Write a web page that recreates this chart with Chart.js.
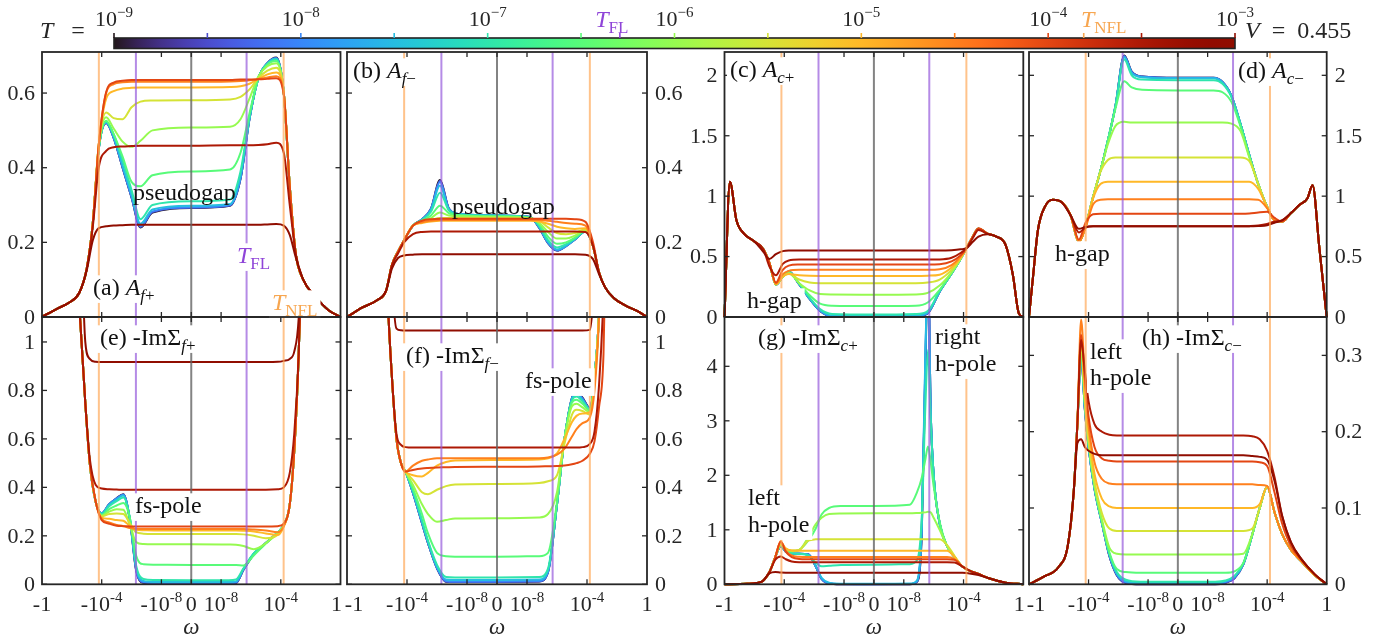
<!DOCTYPE html>
<html>
<head>
<meta charset="utf-8">
<script src="https://cdn.jsdelivr.net/npm/chart.js@4.4.1/dist/chart.umd.min.js"></script>
<style>
  html, body { margin: 0; padding: 0; background: #fff; }
  #fig { position: relative; width: 1393px; height: 639px; }
  #fig canvas { position: absolute; left: 0; top: 0; }
</style>
</head>
<body>
<div id="fig"></div>
<script>
// temperatures of the curves, one colour each (ticks on the colour bar)
const temps = [1e-9, 3.16e-9, 1e-8, 3.16e-8, 1e-7, 3.16e-7, 1e-6, 3.16e-6, 1e-5, 3.16e-5, 1e-4, 3.16e-4, 1e-3];
const T_FL = 5.1e-7;
const T_NFL = 1.55e-4;

// x positions are in decades: sign(w)*(10 + log10|w|), so w=±1 -> ±10, ±1e-4 -> ±6, ±1e-8 -> ±2
const xTickPos = [-10, -6, -2, 0, 2, 6, 10];
const xTickText = [['-1', ''], ['-10', '-4'], ['-10', '-8'], ['0', ''], ['10', '-8'], ['10', '-4'], ['1', '']];

// (a) A_f+
const wA = [-10,-9,-8.2,-7.5,-7,-6.6,-6.2,-5.7,-5.2,-4.6,-4.0,-3.4,-2.6,0,2.6,3.3,3.9,4.5,5.1,5.7,6.2,6.6,7.0,7.5,8.3,9.2,10];
const AfPlus = [
  [0,.022,.038,.065,.13,.25,.45,.52,.48,.40,.32,.24,.28,.292,.298,.37,.53,.64,.68,.695,.6,.35,.17,.1,.055,.018,0],
  [0,.022,.038,.065,.13,.25,.45,.52,.48,.40,.32,.241,.281,.293,.299,.37,.53,.64,.68,.694,.6,.35,.17,.1,.055,.018,0],
  [0,.022,.038,.065,.13,.25,.45,.521,.481,.402,.322,.243,.283,.294,.30,.372,.53,.64,.68,.693,.6,.35,.17,.1,.055,.018,0],
  [0,.022,.038,.065,.13,.25,.45,.522,.483,.406,.328,.25,.288,.298,.303,.378,.532,.64,.679,.692,.6,.35,.17,.1,.055,.018,0],
  [0,.022,.038,.065,.13,.25,.45,.524,.49,.42,.34,.262,.30,.31,.315,.39,.535,.64,.678,.69,.6,.35,.17,.1,.055,.018,0],
  [0,.022,.038,.065,.13,.25,.45,.526,.49,.43,.362,.35,.38,.39,.395,.44,.545,.64,.676,.686,.6,.35,.17,.1,.055,.018,0],
  [0,.022,.038,.065,.13,.25,.46,.535,.505,.47,.456,.472,.50,.508,.51,.53,.585,.645,.672,.68,.6,.35,.17,.1,.055,.018,0],
  [0,.022,.038,.065,.13,.25,.46,.548,.533,.53,.562,.577,.58,.581,.583,.59,.61,.64,.66,.668,.6,.35,.17,.1,.055,.018,0],
  [0,.022,.038,.065,.13,.25,.46,.585,.605,.612,.614,.615,.615,.615,.616,.618,.625,.638,.65,.655,.6,.35,.17,.1,.055,.018,0],
  [0,.022,.038,.065,.13,.25,.46,.60,.624,.629,.63,.63,.63,.63,.631,.632,.634,.638,.642,.645,.6,.35,.17,.1,.055,.018,0],
  [0,.022,.038,.065,.13,.25,.46,.603,.628,.633,.635,.635,.635,.635,.635,.636,.636,.637,.638,.64,.595,.35,.17,.1,.055,.018,0],
  [0,.022,.038,.065,.13,.24,.40,.445,.455,.457,.458,.459,.459,.459,.46,.46,.46,.461,.463,.467,.44,.3,.17,.1,.055,.018,0],
  [0,.022,.038,.065,.125,.205,.238,.243,.245,.246,.247,.247,.247,.247,.247,.247,.247,.247,.248,.249,.245,.22,.16,.1,.055,.018,0]
];

// (b) A_f-
const wB = [-10,-9,-8,-7.4,-7,-6.6,-6.2,-5.6,-5,-4.4,-3.8,-3.2,-2.4,0,2.2,2.8,3.4,4.0,4.6,5.2,5.9,6.4,6.8,7.2,7.8,8.6,9.4,10];
const AfMinus = [
  [0,.025,.045,.07,.14,.175,.205,.245,.262,.29,.367,.29,.275,.272,.268,.24,.198,.178,.19,.208,.23,.19,.12,.08,.05,.03,.015,0],
  [0,.025,.045,.07,.14,.175,.205,.245,.262,.29,.365,.29,.275,.272,.268,.24,.198,.178,.19,.208,.23,.19,.12,.08,.05,.03,.015,0],
  [0,.025,.045,.07,.14,.175,.205,.245,.262,.289,.362,.289,.275,.272,.268,.241,.199,.179,.19,.208,.23,.19,.12,.08,.05,.03,.015,0],
  [0,.025,.045,.07,.14,.175,.205,.245,.261,.287,.352,.287,.275,.272,.268,.242,.201,.181,.191,.209,.23,.19,.12,.08,.05,.03,.015,0],
  [0,.025,.045,.07,.14,.175,.205,.245,.26,.282,.333,.285,.274,.271,.267,.245,.206,.186,.195,.21,.23,.19,.12,.08,.05,.03,.015,0],
  [0,.025,.045,.07,.14,.175,.205,.245,.258,.272,.298,.278,.272,.27,.266,.25,.215,.196,.2,.213,.232,.19,.12,.08,.05,.03,.015,0],
  [0,.025,.045,.07,.14,.175,.205,.245,.256,.265,.28,.272,.27,.268,.265,.253,.228,.21,.21,.218,.233,.19,.12,.08,.05,.03,.015,0],
  [0,.025,.045,.07,.14,.175,.205,.245,.255,.26,.265,.265,.265,.265,.264,.258,.24,.225,.222,.225,.235,.19,.12,.08,.05,.03,.015,0],
  [0,.025,.045,.07,.14,.175,.205,.245,.252,.256,.258,.258,.258,.258,.258,.256,.25,.242,.238,.236,.238,.19,.12,.08,.05,.03,.015,0],
  [0,.025,.045,.07,.14,.175,.205,.245,.254,.258,.26,.26,.26,.26,.26,.26,.258,.255,.252,.25,.245,.19,.12,.08,.05,.03,.015,0],
  [0,.025,.045,.07,.14,.175,.205,.245,.258,.262,.263,.263,.263,.263,.263,.263,.263,.263,.263,.262,.255,.2,.12,.08,.05,.03,.015,0],
  [0,.025,.045,.07,.14,.17,.2,.222,.228,.229,.229,.229,.229,.229,.229,.229,.229,.229,.229,.229,.228,.19,.12,.08,.05,.03,.015,0],
  [0,.025,.045,.07,.13,.158,.165,.167,.168,.168,.168,.168,.168,.168,.168,.168,.168,.168,.168,.168,.167,.155,.115,.08,.05,.03,.015,0]
];

// (c) A_c+
const wC = [-10,-9.64,-9.2,-8.7,-8.0,-7.4,-7.0,-6.56,-6.1,-5.7,-5.0,-4.3,-3.6,-2.8,0,2.8,3.6,4.4,5.2,5.8,6.2,6.6,7.0,7.6,8.2,8.8,9.3,9.7,10];
const AcPlus = [
  [0,1.12,.8,.69,.625,.56,.45,.268,.335,.377,.27,.15,.05,.005,0,.005,.03,.21,.36,.48,.57,.66,.73,.69,.665,.6,.35,.03,0],
  [0,1.12,.8,.69,.625,.56,.45,.268,.335,.377,.27,.15,.05,.005,.001,.006,.031,.21,.36,.48,.57,.66,.73,.69,.665,.6,.35,.03,0],
  [0,1.12,.8,.69,.625,.56,.45,.268,.335,.376,.271,.151,.052,.007,.003,.008,.033,.21,.36,.48,.57,.66,.73,.69,.665,.6,.35,.03,0],
  [0,1.12,.8,.69,.625,.56,.45,.268,.334,.375,.272,.153,.056,.012,.008,.013,.038,.212,.36,.48,.57,.66,.73,.69,.665,.6,.35,.03,0],
  [0,1.12,.8,.69,.625,.56,.45,.268,.333,.372,.275,.16,.065,.025,.02,.025,.05,.215,.36,.48,.57,.66,.73,.69,.665,.6,.35,.03,0],
  [0,1.12,.8,.69,.625,.56,.45,.268,.333,.37,.28,.18,.11,.093,.09,.093,.12,.225,.362,.48,.57,.66,.73,.69,.665,.6,.35,.03,0],
  [0,1.12,.8,.69,.625,.56,.45,.268,.334,.36,.28,.22,.19,.186,.185,.187,.2,.26,.37,.48,.57,.66,.73,.69,.665,.6,.35,.03,0],
  [0,1.12,.8,.69,.625,.56,.45,.27,.335,.36,.31,.285,.28,.28,.28,.28,.285,.31,.39,.485,.57,.66,.73,.69,.665,.6,.35,.03,0],
  [0,1.12,.8,.69,.625,.56,.45,.27,.335,.355,.345,.341,.34,.34,.34,.34,.342,.35,.41,.49,.57,.66,.73,.69,.665,.6,.35,.03,0],
  [0,1.12,.8,.69,.625,.56,.45,.275,.355,.382,.39,.39,.39,.39,.39,.39,.39,.395,.43,.5,.57,.66,.73,.69,.665,.6,.35,.03,0],
  [0,1.12,.8,.69,.625,.56,.45,.285,.39,.425,.434,.435,.435,.435,.435,.435,.435,.437,.46,.51,.57,.66,.735,.69,.665,.6,.35,.03,0],
  [0,1.12,.8,.69,.625,.56,.42,.345,.44,.468,.475,.475,.475,.475,.475,.475,.475,.476,.49,.53,.57,.65,.72,.69,.665,.6,.35,.03,0],
  [0,1.12,.8,.69,.625,.54,.48,.52,.545,.55,.55,.55,.55,.55,.55,.55,.55,.55,.553,.56,.57,.62,.665,.685,.665,.6,.35,.03,0]
];

// (d) A_c-
const wD = [-10,-9.7,-9.4,-8.9,-8.4,-7.8,-7.2,-6.65,-6.2,-5.7,-5.2,-4.7,-4.2,-3.6,-3.1,-2.4,0,2.4,3.0,3.6,4.2,4.8,5.4,6.0,6.5,7.0,7.6,8.2,8.7,9.05,9.5,10];
const AcMinus = [
  [0,.37,.72,.92,.97,.95,.84,.62,.75,.99,1.21,1.46,1.74,2.165,2.03,1.99,1.98,1.98,1.945,1.83,1.6,1.34,1.1,.91,.8,.79,.86,.93,.98,1.09,.58,0],
  [0,.37,.72,.92,.97,.95,.84,.62,.75,.99,1.21,1.46,1.74,2.16,2.03,1.99,1.98,1.98,1.945,1.83,1.6,1.34,1.1,.91,.8,.79,.86,.93,.98,1.09,.58,0],
  [0,.37,.72,.92,.97,.95,.84,.62,.75,.99,1.21,1.46,1.74,2.155,2.025,1.988,1.978,1.978,1.944,1.83,1.6,1.34,1.1,.91,.8,.79,.86,.93,.98,1.09,.58,0],
  [0,.37,.72,.92,.97,.95,.84,.62,.75,.99,1.21,1.46,1.74,2.15,2.02,1.985,1.975,1.975,1.94,1.83,1.6,1.34,1.1,.91,.8,.79,.86,.93,.98,1.09,.58,0],
  [0,.37,.72,.92,.97,.95,.84,.62,.75,.99,1.21,1.46,1.74,2.13,2.0,1.965,1.96,1.96,1.93,1.82,1.6,1.34,1.1,.91,.8,.79,.86,.93,.98,1.09,.58,0],
  [0,.37,.72,.92,.97,.95,.84,.62,.75,.99,1.21,1.46,1.72,1.95,1.9,1.88,1.875,1.875,1.86,1.78,1.58,1.33,1.1,.91,.8,.79,.86,.93,.98,1.09,.58,0],
  [0,.37,.72,.92,.97,.95,.84,.62,.75,.99,1.21,1.43,1.58,1.615,1.61,1.61,1.61,1.61,1.61,1.6,1.54,1.32,1.1,.91,.8,.79,.86,.93,.98,1.09,.58,0],
  [0,.37,.72,.92,.97,.95,.84,.62,.75,.99,1.2,1.3,1.32,1.32,1.32,1.32,1.32,1.32,1.32,1.32,1.32,1.29,1.1,.91,.8,.79,.86,.93,.98,1.09,.58,0],
  [0,.37,.72,.92,.97,.95,.84,.62,.75,.98,1.1,1.12,1.12,1.12,1.12,1.12,1.12,1.12,1.12,1.12,1.12,1.12,1.06,.91,.8,.79,.86,.93,.98,1.09,.58,0],
  [0,.37,.72,.92,.97,.95,.84,.62,.74,.93,.97,.974,.974,.974,.974,.974,.974,.974,.974,.974,.974,.974,.97,.9,.8,.79,.86,.93,.98,1.09,.58,0],
  [0,.37,.72,.92,.97,.95,.84,.64,.78,.85,.855,.855,.855,.855,.855,.855,.855,.855,.855,.855,.855,.857,.865,.87,.82,.79,.86,.93,.98,1.09,.58,0],
  [0,.37,.72,.92,.97,.95,.84,.7,.74,.75,.75,.75,.75,.75,.75,.75,.75,.75,.75,.75,.75,.752,.757,.77,.79,.8,.86,.93,.98,1.09,.58,0],
  [0,.37,.72,.92,.97,.95,.84,.73,.745,.75,.75,.75,.75,.75,.75,.75,.75,.75,.75,.75,.75,.75,.753,.76,.78,.8,.86,.93,.98,1.09,.58,0]
];

// (e) -Im Sigma_f+
const wE = [-10,-8.5,-7.8,-7.4,-7.1,-6.8,-6.4,-6.0,-5.5,-5.0,-4.55,-4.1,-3.7,-3.2,-2.5,0,2.5,3.0,3.5,4.2,5.0,5.8,6.2,6.6,6.9,7.2,7.5,8,10];
const SfPlus = [
  [8,3.5,1.5,1.05,.75,.5,.34,.293,.33,.355,.372,.26,.06,.006,.003,.003,.003,.005,.06,.125,.17,.215,.245,.33,.55,.95,1.6,3,8],
  [8,3.5,1.5,1.05,.75,.5,.34,.293,.33,.355,.371,.262,.062,.007,.004,.004,.004,.006,.06,.125,.17,.215,.245,.33,.55,.95,1.6,3,8],
  [8,3.5,1.5,1.05,.75,.5,.34,.293,.33,.354,.37,.264,.065,.009,.006,.006,.006,.008,.062,.126,.17,.215,.245,.33,.55,.95,1.6,3,8],
  [8,3.5,1.5,1.05,.75,.5,.34,.292,.328,.35,.366,.265,.07,.014,.01,.01,.01,.012,.064,.127,.17,.215,.245,.33,.55,.95,1.6,3,8],
  [8,3.5,1.5,1.05,.75,.5,.34,.29,.322,.343,.358,.27,.08,.022,.018,.017,.017,.02,.066,.128,.17,.215,.245,.33,.55,.95,1.6,3,8],
  [8,3.5,1.5,1.05,.75,.5,.34,.285,.31,.325,.335,.27,.12,.083,.081,.08,.08,.08,.078,.12,.168,.213,.245,.33,.55,.95,1.6,3,8],
  [8,3.5,1.5,1.05,.75,.5,.34,.283,.3,.31,.308,.24,.175,.166,.165,.165,.164,.163,.158,.145,.17,.213,.245,.33,.55,.95,1.6,3,8],
  [8,3.5,1.5,1.05,.75,.5,.34,.28,.29,.292,.29,.25,.215,.209,.208,.208,.208,.208,.206,.2,.19,.205,.24,.33,.55,.95,1.6,3,8],
  [8,3.5,1.5,1.05,.75,.5,.34,.275,.27,.265,.262,.24,.225,.223,.222,.222,.222,.222,.221,.218,.21,.203,.24,.33,.55,.95,1.6,3,8],
  [8,3.5,1.5,1.05,.75,.5,.34,.27,.255,.245,.24,.232,.229,.228,.228,.228,.228,.228,.228,.226,.222,.215,.24,.33,.55,.95,1.6,3,8],
  [8,3.5,1.5,1.05,.75,.5,.34,.265,.25,.242,.24,.239,.238,.238,.238,.238,.238,.238,.238,.238,.238,.24,.25,.33,.55,.95,1.6,3,8],
  [8,3.5,1.5,1.05,.75,.52,.41,.395,.392,.391,.39,.39,.39,.39,.39,.39,.39,.39,.39,.39,.39,.392,.4,.46,.62,.95,1.6,3,8],
  [8,4,2.2,1.5,1,.93,.918,.917,.917,.917,.917,.917,.917,.917,.917,.917,.917,.917,.917,.917,.917,.918,.922,.93,.96,1.1,1.6,3,8]
];

// (f) -Im Sigma_f-
const wF = [-10,-8.5,-7.8,-7.3,-7.0,-6.7,-6.4,-6.1,-5.6,-5.0,-4.6,-4.0,-3.4,-2.8,0,2.8,3.4,4.0,4.5,5.0,5.3,5.7,6.2,6.5,6.8,7.1,7.6,10];
const SfMinus = [
  [8,4,2.2,1.2,.85,.6,.5,.465,.376,.252,.17,.066,.011,.01,.01,.012,.05,.33,.6,.77,.796,.77,.727,.86,1.12,1.8,3.5,8],
  [8,4,2.2,1.2,.85,.6,.5,.465,.376,.252,.17,.066,.011,.01,.01,.012,.05,.33,.6,.77,.794,.768,.726,.86,1.12,1.8,3.5,8],
  [8,4,2.2,1.2,.85,.6,.5,.465,.377,.254,.172,.068,.014,.012,.012,.014,.052,.33,.6,.768,.79,.765,.725,.86,1.12,1.8,3.5,8],
  [8,4,2.2,1.2,.85,.6,.5,.465,.38,.258,.175,.072,.02,.018,.018,.02,.056,.33,.6,.765,.785,.76,.723,.86,1.12,1.8,3.5,8],
  [8,4,2.2,1.2,.85,.6,.5,.465,.385,.265,.18,.08,.03,.028,.028,.03,.065,.33,.6,.76,.775,.755,.72,.86,1.12,1.8,3.5,8],
  [8,4,2.2,1.2,.85,.6,.5,.465,.395,.29,.21,.13,.116,.114,.114,.116,.13,.34,.6,.75,.762,.745,.715,.85,1.12,1.8,3.5,8],
  [8,4,2.2,1.2,.85,.6,.5,.465,.41,.33,.29,.258,.265,.272,.273,.276,.29,.38,.6,.735,.745,.73,.71,.85,1.12,1.8,3.5,8],
  [8,4,2.2,1.2,.85,.6,.5,.465,.43,.38,.372,.39,.405,.412,.414,.418,.425,.45,.58,.7,.72,.715,.7,.84,1.12,1.8,3.5,8],
  [8,4,2.2,1.2,.85,.6,.5,.465,.45,.445,.46,.49,.505,.511,.513,.515,.52,.54,.6,.67,.695,.705,.71,.83,1.12,1.8,3.5,8],
  [8,4,2.2,1.2,.85,.6,.5,.465,.49,.51,.515,.52,.52,.52,.52,.52,.523,.535,.56,.61,.64,.665,.69,.8,1.1,1.8,3.5,8],
  [8,4,2.2,1.2,.85,.6,.5,.465,.472,.478,.48,.482,.483,.484,.485,.486,.487,.488,.49,.495,.5,.51,.54,.59,.73,.95,2.5,8],
  [8,4,2.2,1.2,.85,.62,.575,.566,.564,.564,.564,.564,.564,.564,.564,.564,.564,.564,.564,.564,.564,.566,.58,.63,.82,1.2,2.5,8],
  [8,5,3,2,1.3,1.055,1.048,1.047,1.047,1.047,1.047,1.047,1.047,1.047,1.047,1.047,1.047,1.047,1.047,1.047,1.047,1.047,1.05,1.25,1.6,2.5,4,8]
];

// (g) -Im Sigma_c+
const wG = [-10,-8.5,-7.5,-7.0,-6.6,-6.24,-5.9,-5.5,-5.0,-4.4,-3.9,-3.5,-3.0,-2.2,0,2.4,2.9,3.2,3.45,3.62,3.8,4.0,4.4,4.9,5.4,5.9,6.4,7.0,7.7,8.8,10];
const ScPlus = [
  [0,.01,.05,.22,.5,.7,.6,.56,.56,.55,.33,.1,.015,.002,0,.002,.05,.9,4,6,3.2,2,1.12,.7,.5,.33,.25,.19,.11,.03,0],
  [0,.01,.05,.22,.5,.7,.6,.56,.56,.55,.33,.1,.015,.002,.001,.003,.055,.95,4.1,6,3.2,2,1.12,.7,.5,.33,.25,.19,.11,.03,0],
  [0,.01,.05,.22,.5,.7,.6,.56,.56,.55,.335,.105,.018,.004,.003,.005,.06,1,4.2,6,3.2,2,1.12,.7,.5,.33,.25,.19,.11,.03,0],
  [0,.01,.05,.22,.5,.71,.6,.56,.56,.545,.34,.12,.03,.012,.01,.013,.08,1.05,4.3,5.8,3.2,2,1.12,.7,.5,.33,.25,.19,.11,.03,0],
  [0,.01,.05,.22,.5,.72,.62,.57,.56,.53,.4,.33,.34,.355,.36,.37,.45,1.2,3.3,4.3,3,2,1.12,.7,.5,.33,.25,.19,.11,.03,0],
  [0,.01,.05,.22,.5,.72,.63,.6,.63,.8,1.02,1.28,1.4,1.435,1.438,1.46,1.7,1.95,2.3,2.53,2.25,1.8,1.15,.7,.5,.33,.25,.19,.11,.03,0],
  [0,.01,.05,.22,.5,.73,.64,.61,.63,.86,1.1,1.22,1.29,1.3,1.304,1.305,1.31,1.315,1.32,1.33,1.32,1.22,1,.7,.5,.33,.25,.19,.11,.03,0],
  [0,.01,.05,.22,.5,.74,.65,.62,.63,.8,.825,.827,.827,.827,.827,.827,.827,.827,.827,.827,.827,.827,.825,.72,.52,.33,.25,.19,.11,.03,0],
  [0,.01,.05,.22,.5,.77,.66,.62,.617,.617,.617,.617,.617,.617,.617,.617,.617,.617,.617,.617,.617,.617,.617,.615,.5,.33,.25,.19,.11,.03,0],
  [0,.01,.05,.22,.5,.79,.62,.53,.505,.5,.5,.5,.5,.5,.5,.5,.5,.5,.5,.5,.5,.5,.5,.5,.46,.33,.25,.19,.11,.03,0],
  [0,.01,.05,.22,.5,.78,.6,.5,.465,.46,.459,.459,.459,.459,.459,.459,.459,.459,.459,.459,.459,.459,.459,.459,.45,.33,.25,.19,.11,.03,0],
  [0,.01,.05,.22,.45,.51,.46,.42,.406,.404,.404,.404,.404,.404,.404,.404,.404,.404,.404,.404,.404,.404,.404,.404,.4,.33,.25,.19,.11,.03,0],
  [0,.01,.05,.2,.225,.215,.213,.213,.213,.213,.213,.213,.213,.213,.213,.213,.213,.213,.213,.213,.213,.213,.213,.213,.213,.21,.2,.17,.11,.03,0]
];

// (h) -Im Sigma_c-
const wH = [-10,-9,-8,-7.4,-7.0,-6.75,-6.5,-6.25,-6.0,-5.6,-5.1,-4.6,-4.1,-3.5,-2.5,0,2.5,3.2,3.8,4.4,5.0,5.5,6.0,6.5,7.0,7.6,8.3,9.2,10];
const ScMinus = [
  [0,.01,.023,.05,.12,.21,.3,.23,.18,.125,.08,.037,.012,.002,0,0,0,.002,.008,.026,.065,.1,.128,.094,.066,.045,.03,.012,0],
  [0,.01,.023,.05,.12,.21,.3,.23,.18,.125,.08,.037,.012,.002,0,0,0,.002,.008,.026,.065,.1,.128,.094,.066,.045,.03,.012,0],
  [0,.01,.023,.05,.12,.21,.3,.23,.18,.125,.08,.038,.013,.003,.001,.001,.001,.003,.009,.026,.065,.1,.128,.094,.066,.045,.03,.012,0],
  [0,.01,.023,.05,.12,.21,.302,.232,.181,.126,.081,.039,.014,.004,.002,.002,.002,.004,.01,.027,.065,.1,.128,.094,.066,.045,.03,.012,0],
  [0,.01,.023,.05,.12,.21,.305,.235,.183,.127,.081,.04,.016,.006,.0035,.0035,.0035,.005,.011,.027,.065,.1,.128,.094,.066,.045,.03,.012,0],
  [0,.01,.023,.05,.12,.21,.31,.237,.185,.128,.082,.042,.02,.016,.015,.015,.015,.015,.017,.028,.065,.1,.128,.094,.066,.045,.03,.012,0],
  [0,.01,.023,.05,.12,.21,.315,.24,.187,.13,.085,.048,.04,.039,.039,.039,.039,.039,.039,.04,.066,.1,.128,.094,.066,.045,.03,.012,0],
  [0,.01,.023,.05,.12,.21,.32,.243,.19,.135,.093,.073,.07,.07,.07,.07,.07,.07,.07,.07,.073,.1,.128,.094,.066,.045,.03,.012,0],
  [0,.01,.023,.05,.12,.21,.325,.25,.2,.145,.112,.102,.1,.1,.1,.1,.1,.1,.1,.1,.1,.105,.128,.094,.066,.045,.03,.012,0],
  [0,.01,.023,.05,.12,.21,.347,.27,.21,.16,.138,.132,.131,.131,.131,.131,.131,.131,.131,.131,.131,.13,.129,.094,.066,.045,.03,.012,0],
  [0,.01,.023,.05,.12,.21,.327,.27,.22,.18,.165,.162,.161,.161,.161,.161,.161,.161,.161,.161,.161,.16,.155,.12,.08,.05,.032,.013,0],
  [0,.01,.023,.05,.12,.21,.32,.28,.24,.21,.2,.196,.195,.195,.195,.195,.195,.195,.195,.195,.194,.19,.175,.14,.09,.055,.033,.013,0],
  [0,.01,.023,.05,.12,.185,.19,.18,.175,.171,.169,.169,.169,.169,.169,.169,.169,.169,.169,.169,.168,.167,.163,.135,.09,.055,.033,.013,0]
];

const W = 1393, H = 639;
const FONT = '"Liberation Serif", "DejaVu Serif", serif';
const INK = '#262626';

// turbo colour map (polynomial fit)
function turbo(t) {
  t = Math.min(1, Math.max(0, t));
  const r = 0.13572138 + t * (4.61539260 + t * (-42.66032258 + t * (132.13108234 + t * (-152.94239396 + t * 59.28637943))));
  const g = 0.09140261 + t * (2.19418839 + t * (4.84296658 + t * (-14.18503333 + t * (4.27729857 + t * 2.82956604))));
  const b = 0.10667330 + t * (12.64194608 + t * (-60.58204836 + t * (110.36276771 + t * (-89.90310912 + t * 27.34824973))));
  const c = v => Math.round(255 * Math.min(1, Math.max(0, v)));
  return `rgb(${c(r)},${c(g)},${c(b)})`;
}
const tOf = T => (Math.log10(T) + 9) / 6;

// text with italic / sub / sup pieces
function rich(ctx, x, y, parts, o = {}) {
  const size = o.size || 22, small = Math.round(size * 0.7);
  ctx.save();
  ctx.textBaseline = 'alphabetic';
  ctx.textAlign = 'left';
  const items = parts.map(([t, s]) => {
    const sm = s === 'sub' || s === 'subi' || s === 'sup';
    const it = s === 'i' || s === 'subi';
    const font = (it ? 'italic ' : '') + (sm ? small : size) + 'px ' + FONT;
    ctx.font = font;
    return { t, font, w: ctx.measureText(t).width, dy: s === 'sup' ? -size * 0.42 : (sm ? size * 0.27 : 0) };
  });
  const w = items.reduce((s, it) => s + it.w, 0);
  let cx = o.align === 'center' ? x - w / 2 : o.align === 'right' ? x - w : x;
  if (o.bg) {
    ctx.fillStyle = '#fff';
    ctx.fillRect(cx - 3, y - size * 0.82, w + 6, size * 1.15);
  }
  ctx.fillStyle = o.color || '#111';
  items.forEach(it => { ctx.font = it.font; ctx.fillText(it.t, cx, y + it.dy); cx += it.w; });
  ctx.restore();
}

const PURPLE_TXT = '#8f45d8', ORANGE_TXT = '#f7a650';

function decoPlugin(p) {
  return {
    id: 'deco_' + p.id,
    afterDatasetsDraw(chart) {
      const ctx = chart.ctx, a = chart.chartArea, xs = chart.scales.x, ys = chart.scales.y;
      ctx.save();
      const vline = (u, col) => {
        const x = xs.getPixelForValue(u);
        ctx.strokeStyle = col; ctx.lineWidth = 2;
        ctx.beginPath(); ctx.moveTo(x, a.top); ctx.lineTo(x, a.bottom); ctx.stroke();
      };
      const uFL = 10 + Math.log10(T_FL), uNFL = 10 + Math.log10(T_NFL);
      vline(-uNFL, 'rgba(255,170,90,0.7)'); vline(uNFL, 'rgba(255,170,90,0.7)');
      vline(-uFL, 'rgba(150,90,220,0.7)'); vline(uFL, 'rgba(150,90,220,0.7)');
      vline(0, 'rgba(100,100,100,0.8)');

      // inward ticks on all four sides
      ctx.strokeStyle = INK; ctx.lineWidth = 1.3;
      const seg = (x1, y1, x2, y2) => { ctx.beginPath(); ctx.moveTo(x1, y1); ctx.lineTo(x2, y2); ctx.stroke(); };
      p.yt.forEach(v => {
        const y = ys.getPixelForValue(v);
        seg(a.left, y, a.left + 5, y); seg(a.right, y, a.right - 5, y);
      });
      xTickPos.slice(1, -1).forEach(u => {
        const x = xs.getPixelForValue(u);
        seg(x, a.top, x, a.top + 5); seg(x, a.bottom, x, a.bottom - 5);
      });
      ctx.lineWidth = 1.8;
      ctx.strokeRect(a.left, a.top, a.right - a.left, a.bottom - a.top);

      // tick labels
      ctx.fillStyle = INK; ctx.font = '22px ' + FONT; ctx.textBaseline = 'middle';
      p.yt.forEach(v => {
        const y = ys.getPixelForValue(v);
        if (p.side === 'left') { ctx.textAlign = 'right'; ctx.fillText(String(v), a.left - 7, y + 1); }
        else { ctx.textAlign = 'left'; ctx.fillText(String(v), a.right + 8, y + 1); }
      });
      if (p.xlab) {
        xTickPos.forEach((u, k) => {
          let x = xs.getPixelForValue(u);
          // end labels shifted where two panels meet
          if (k === 0 && p.side === 'right') x += 7;
          if (k === xTickPos.length - 1 && p.side === 'left') x -= 4;
          const [b, s] = xTickText[k];
          const parts = s ? [[b, 'n'], [s, 'sup']] : [[b, 'n']];
          rich(ctx, x, 611, parts, { align: 'center', color: INK, size: 22 });
        });
        rich(ctx, (a.left + a.right) / 2, 634, [['ω', 'i']], { align: 'center', color: INK, size: 23 });
      }
      p.texts.forEach(t => rich(ctx, t.x, t.y, t.parts, { bg: t.bg !== false, color: t.color, size: 24 }));
      ctx.restore();
    }
  };
}

const panels = [
  { id: 'a', rect: [42, 52, 340.5, 317], w: wA, rows: AfPlus, ymax: 0.71, yt: [0, 0.2, 0.4, 0.6], side: 'left',
    texts: [
      { x: 93, y: 295, parts: [['(a) ', 'n'], ['A', 'i'], ['f', 'subi'], ['+', 'sub']] },
      { x: 237, y: 263, parts: [['T', 'i'], ['FL', 'sub']], color: PURPLE_TXT },
      { x: 272, y: 310, parts: [['T', 'i'], ['NFL', 'sub']], color: ORANGE_TXT },
      { x: 133, y: 200, parts: [['pseudogap', 'n']], bg: false }
    ] },
  { id: 'b', rect: [347, 52, 647, 317], w: wB, rows: AfMinus, ymax: 0.71, yt: [0, 0.2, 0.4, 0.6], side: 'right',
    texts: [
      { x: 353, y: 78, parts: [['(b) ', 'n'], ['A', 'i'], ['f', 'subi'], ['−', 'sub']] },
      { x: 452, y: 214, parts: [['pseudogap', 'n']], bg: false }
    ] },
  { id: 'c', rect: [724.5, 52, 1023.3, 317], w: wC, rows: AcPlus, ymax: 2.193, yt: [0, 0.5, 1, 1.5, 2], side: 'left',
    texts: [
      { x: 730, y: 77, parts: [['(c) ', 'n'], ['A', 'i'], ['c', 'subi'], ['+', 'sub']] },
      { x: 747, y: 308, parts: [['h-gap', 'n']] }
    ] },
  { id: 'd', rect: [1029, 52, 1326.7, 317], w: wD, rows: AcMinus, ymax: 2.193, yt: [0, 0.5, 1, 1.5, 2], side: 'right',
    texts: [
      { x: 1238, y: 78, parts: [['(d) ', 'n'], ['A', 'i'], ['c', 'subi'], ['−', 'sub']] },
      { x: 1055, y: 261, parts: [['h-gap', 'n']] }
    ] },
  { id: 'e', rect: [42, 317, 340.5, 584.3], w: wE, rows: SfPlus, ymax: 1.103, yt: [0, 0.2, 0.4, 0.6, 0.8, 1], side: 'left', xlab: true,
    texts: [
      { x: 100, y: 345, parts: [['(e) -ImΣ', 'n'], ['f', 'subi'], ['+', 'sub']] },
      { x: 135, y: 513, parts: [['fs-pole', 'n']] }
    ] },
  { id: 'f', rect: [347, 317, 647, 584.3], w: wF, rows: SfMinus, ymax: 1.103, yt: [0, 0.2, 0.4, 0.6, 0.8, 1], side: 'right', xlab: true,
    texts: [
      { x: 406, y: 363, parts: [['(f) -ImΣ', 'n'], ['f', 'subi'], ['−', 'sub']] },
      { x: 525, y: 388, parts: [['fs-pole', 'n']] }
    ] },
  { id: 'g', rect: [724.5, 317, 1023.3, 584.3], w: wG, rows: ScPlus, ymax: 4.905, yt: [0, 1, 2, 3, 4], side: 'left', xlab: true,
    texts: [
      { x: 758, y: 345, parts: [['(g) -ImΣ', 'n'], ['c', 'subi'], ['+', 'sub']] },
      { x: 935, y: 344, parts: [['right', 'n']] },
      { x: 935, y: 371, parts: [['h-pole', 'n']] },
      { x: 748, y: 505, parts: [['left', 'n']] },
      { x: 748, y: 532, parts: [['h-pole', 'n']] }
    ] },
  { id: 'h', rect: [1029, 317, 1326.7, 584.3], w: wH, rows: ScMinus, ymax: 0.3503, yt: [0, 0.1, 0.2, 0.3], side: 'right', xlab: true,
    texts: [
      { x: 1142, y: 345, parts: [['(h) -ImΣ', 'n'], ['c', 'subi'], ['−', 'sub']] },
      { x: 1090, y: 359, parts: [['left', 'n']] },
      { x: 1090, y: 385, parts: [['h-pole', 'n']] }
    ] }
];

const fig = document.getElementById('fig');
function addCanvas() {
  const cv = document.createElement('canvas');
  cv.width = W; cv.height = H;
  cv.style.width = W + 'px'; cv.style.height = H + 'px';
  fig.appendChild(cv);
  return cv;
}

panels.forEach(p => {
  const [L, T, R, B] = p.rect;
  const datasets = p.rows.map((row, i) => ({
    data: row.map((v, k) => ({ x: p.w[k], y: v })),
    borderColor: turbo(tOf(temps[i])),
    borderWidth: 2,
    pointRadius: 0,
    fill: false,
    cubicInterpolationMode: 'monotone',
    order: temps.length - 1 - i,
    clip: { left: 2, right: 2, top: 0, bottom: 2 }
  }));
  new Chart(addCanvas(), {
    type: 'line',
    data: { datasets },
    options: {
      responsive: false,
      animation: false,
      events: [],
      layout: { padding: { left: L, top: T, right: W - R, bottom: H - B } },
      plugins: { legend: { display: false }, tooltip: { enabled: false } },
      scales: {
        x: { type: 'linear', min: -10, max: 10, display: false },
        y: { type: 'linear', min: 0, max: p.ymax, display: false }
      }
    },
    plugins: [decoPlugin(p)]
  });
});

// colour bar
const colorbarPlugin = {
  id: 'colorbar',
  afterDraw(chart) {
    const ctx = chart.ctx, a = chart.chartArea, xs = chart.scales.x;
    ctx.save();
    const grad = ctx.createLinearGradient(a.left, 0, a.right, 0);
    for (let k = 0; k <= 48; k++) grad.addColorStop(k / 48, turbo(k / 48));
    ctx.fillStyle = grad;
    ctx.fillRect(a.left, a.top, a.right - a.left, a.bottom - a.top);
    ctx.strokeStyle = '#222'; ctx.lineWidth = 1.6;
    ctx.strokeRect(a.left, a.top, a.right - a.left, a.bottom - a.top);
    ctx.lineWidth = 1.6;
    const tick = (T, col) => {
      const x = xs.getPixelForValue(T);
      ctx.strokeStyle = col;
      ctx.beginPath(); ctx.moveTo(x, a.top - 5); ctx.lineTo(x, a.top); ctx.stroke();
    };
    temps.forEach(T => tick(T, turbo(tOf(T))));
    tick(T_FL, '#8f45d8');
    tick(T_NFL, '#f7a650');
    for (let e = -9; e <= -3; e++) {
      rich(ctx, xs.getPixelForValue(Math.pow(10, e)), 26, [['10', 'n'], ['−' + (-e), 'sup']], { align: 'center', color: INK, size: 22 });
    }
    rich(ctx, xs.getPixelForValue(T_FL) - 8, 27, [['T', 'i'], ['FL', 'sub']], { align: 'center', color: PURPLE_TXT, size: 24 });
    rich(ctx, xs.getPixelForValue(T_NFL) + 20, 27, [['T', 'i'], ['NFL', 'sub']], { align: 'center', color: ORANGE_TXT, size: 24 });
    rich(ctx, 40, 38, [['T', 'i'], [' \u2002=', 'n']], { color: INK, size: 24 });
    rich(ctx, 1245, 38, [['V', 'i'], ['\u2002=\u2002', 'n'], ['0.455', 'n']], { color: INK, size: 24 });
    ctx.restore();
  }
};
new Chart(addCanvas(), {
  type: 'line',
  data: { datasets: [] },
  options: {
    responsive: false,
    animation: false,
    events: [],
    layout: { padding: { left: 114, top: 38, right: W - 1235, bottom: H - 48.5 } },
    plugins: { legend: { display: false }, tooltip: { enabled: false } },
    scales: {
      x: { type: 'logarithmic', min: 1e-9, max: 1e-3, display: false },
      y: { type: 'linear', min: 0, max: 1, display: false }
    }
  },
  plugins: [colorbarPlugin]
});
</script>
</body>
</html>
